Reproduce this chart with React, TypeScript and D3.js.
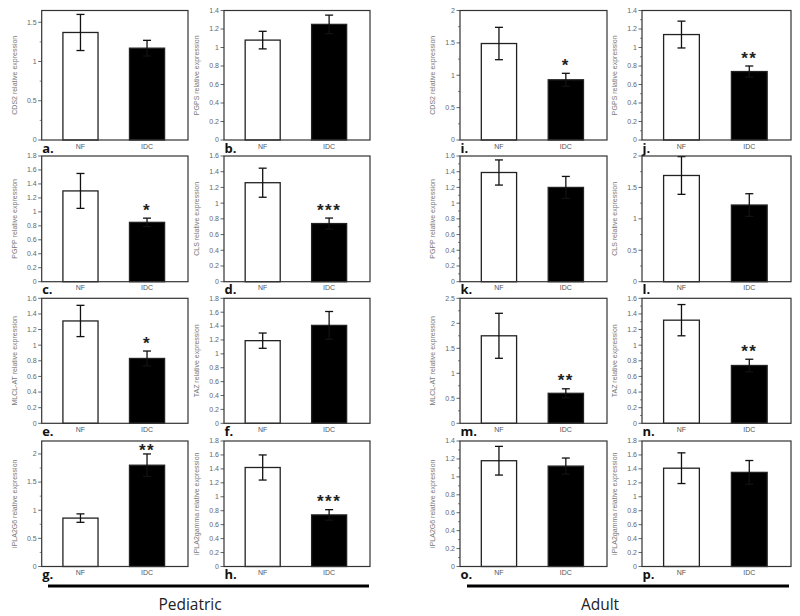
import React from "react";
import * as d3 from "d3";

const panelLetters = ["a", "b", "c", "d", "e", "f", "g", "h", "i", "j", "k", "l", "m", "n", "o", "p"];
const yLabels = [
  "CDS2 relative expression", "PGPS relative expression", "PGPP relative expression", "CLS relative expression",
  "MLCL-AT relative expression", "TAZ relative expression", "iPLA2G6 relative expression", "iPLA2gamma relative expression",
  "CDS2 relative expression", "PGPS relative expression", "PGPP relative expression", "CLS relative expression",
  "MLCL-AT relative expression", "TAZ relative expression", "iPLA2G6 relative expression", "iPLA2gamma relative expression",
];
const categories = ["NF", "IDC"];
const nfValues = [1.37, 1.08, 1.3, 1.26, 1.31, 1.19, 0.86, 1.42, 1.49, 1.14, 1.39, 1.69, 1.75, 1.32, 1.18, 1.41];
const nfErrors = [0.23, 0.095, 0.25, 0.185, 0.2, 0.11, 0.075, 0.18, 0.25, 0.145, 0.16, 0.3, 0.45, 0.2, 0.16, 0.22];
const idcValues = [1.17, 1.25, 0.85, 0.74, 0.83, 1.41, 1.8, 0.74, 0.93, 0.74, 1.2, 1.22, 0.6, 0.74, 1.12, 1.35];
const idcErrors = [0.1, 0.1, 0.06, 0.07, 0.095, 0.2, 0.2, 0.075, 0.1, 0.06, 0.14, 0.18, 0.09, 0.08, 0.09, 0.17];
const significance = ["", "", "*", "***", "*", "", "**", "***", "*", "**", "", "", "**", "**", "", ""];
const yMax = [1.65, 1.4, 1.8, 1.6, 1.6, 1.8, 2.23, 1.8, 2, 1.4, 1.6, 2, 2.5, 1.6, 1.4, 1.8];
const tickStep = [0.5, 0.2, 0.2, 0.2, 0.2, 0.2, 0.5, 0.2, 0.5, 0.2, 0.2, 0.5, 0.5, 0.2, 0.2, 0.2];
const hasMinor = [true, false, false, false, false, false, true, false, true, true, true, true, true, true, true, false];
const groupTitles = ["Pediatric", "Adult"];

// layout
const colX: [number, number][] = [[41.7, 188], [224, 370], [460, 607], [642, 791]];
const rowY: [number, number][] = [[10.5, 140], [156, 281.7], [298.3, 423.3], [441, 566.5]];
const groupLineX: [number, number][] = [[48, 369], [467, 789]];
const groupTitleX = [190, 600];

const fmt = (t: number) => String(+t.toFixed(2));

function Panel({ i }: { i: number }) {
  const g = i < 8 ? 0 : 1;
  const j = i % 8;
  const row = Math.floor(j / 2);
  const col = g * 2 + (j % 2);
  const [x0, x1] = colX[col];
  const [y0, y1] = rowY[row];
  const W = x1 - x0;
  const y = d3.scaleLinear().domain([0, yMax[i]]).range([y1, y0]);
  const x = d3.scalePoint<string>().domain(categories).range([x0 + 0.265 * W, x0 + 0.72 * W]);
  const bw = 0.24 * W;
  const ticks = d3.range(0, yMax[i] + 1e-6, tickStep[i]);
  const minor = hasMinor[i] ? d3.range(tickStep[i] / 2, yMax[i], tickStep[i]) : [];
  const vals = [nfValues[i], idcValues[i]];
  const errs = [nfErrors[i], idcErrors[i]];
  const fills = ["#fff", "#000"];
  const sig = significance[i];
  const errTop = y(idcValues[i] + idcErrors[i]);
  const sigCenter = Math.max(errTop - 12, y0 + 5.5);
  return (
    <g>
      {ticks.map((t) => (
        <g key={"t" + t}>
          <line x1={x0 - 3.5} x2={x0} y1={y(t)} y2={y(t)} stroke="#555" strokeWidth={0.9} />
          <text x={x0 - 5} y={y(t) + 2.4} fontSize={7} fill="#666" textAnchor="end">{fmt(t)}</text>
        </g>
      ))}
      {minor.map((t) => (
        <line key={"m" + t} x1={x0 - 2} x2={x0} y1={y(t)} y2={y(t)} stroke="#666" strokeWidth={0.8} />
      ))}
      <text
        transform={`translate(${x0 - 25},${(y0 + y1) / 2}) rotate(-90)`}
        fontSize={7}
        fill="#777"
        textAnchor="middle"
      >
        {yLabels[i]}
      </text>
      {categories.map((c, k) => (
        <g key={c}>
          <rect
            x={(x(c) as number) - bw / 2}
            y={y(vals[k])}
            width={bw}
            height={y(0) - y(vals[k])}
            fill={fills[k]}
            stroke="#222"
            strokeWidth={1.3}
          />
          <line x1={x(c)} x2={x(c)} y1={y(vals[k] + errs[k])} y2={y(vals[k] - errs[k])} stroke="#111" strokeWidth={1.3} />
          <line x1={(x(c) as number) - 4} x2={(x(c) as number) + 4} y1={y(vals[k] + errs[k])} y2={y(vals[k] + errs[k])} stroke="#111" strokeWidth={1.3} />
          <line x1={(x(c) as number) - 4} x2={(x(c) as number) + 4} y1={y(vals[k] - errs[k])} y2={y(vals[k] - errs[k])} stroke="#111" strokeWidth={1.3} />
          <text x={x(c)} y={y1 + 8.5} fontSize={7} fill="#555" textAnchor="middle">{c}</text>
        </g>
      ))}
      <rect x={x0} y={y0} width={W} height={y1 - y0} fill="none" stroke="#333" strokeWidth={1.2} />
      {sig && (
        <text
          x={x("IDC")}
          y={sigCenter + 9.5}
          fontSize={17}
          fontWeight="bold"
          letterSpacing={1.5}
          fill="#222"
          textAnchor="middle"
        >
          {sig}
        </text>
      )}
      <text x={x0 + 0.5} y={y1 + 12.5} fontSize={13} fontWeight="bold" fontFamily="'Open Sans', sans-serif" fill="#111">
        {panelLetters[i] + "."}
      </text>
    </g>
  );
}

export default function App() {
  return (
    <svg
      width={800}
      height={616}
      style={{ position: "absolute", left: 0, top: 0, background: "#fff" }}
      fontFamily="'Liberation Sans', Arial, sans-serif"
    >
      <rect x={0} y={0} width={800} height={616} fill="#fff" />
      {panelLetters.map((p, i) => (
        <Panel key={p} i={i} />
      ))}
      {groupTitles.map((t, k) => (
        <g key={t}>
          <line x1={groupLineX[k][0]} x2={groupLineX[k][1]} y1={586} y2={586} stroke="#000" strokeWidth={3} />
          <text x={groupTitleX[k]} y={610} fontSize={15.5} fontFamily="'Open Sans', sans-serif" fill="#222" textAnchor="middle">
            {t}
          </text>
        </g>
      ))}
    </svg>
  );
}
